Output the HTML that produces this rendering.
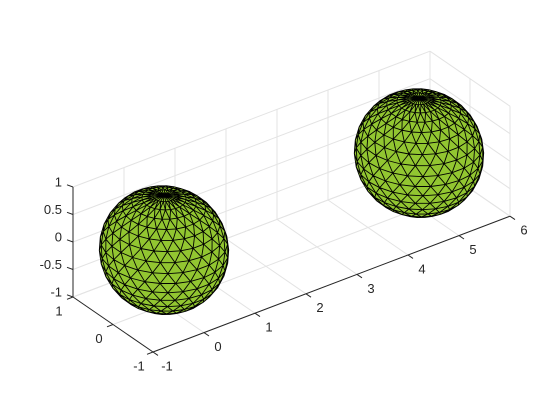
<!DOCTYPE html>
<html><head><meta charset="utf-8"><style>
body{margin:0;background:#fff}
svg{display:block;font-family:"Liberation Sans",sans-serif;font-size:13px;fill:#262626}
</style></head><body>
<svg id="c" width="560" height="420" viewBox="0 0 560 420">
<g id="grid"></g>
<g id="spheres"></g>
<g id="axes"></g>
</svg>
<script>
const xTicks=[-1,0,1,2,3,4,5,6];
const yTicks=[-1,0,1];
const zTicks=[-1,-0.5,0,0.5,1];
const zTickLabels=["-1","-0.5","0","0.5","1"];
const sphereCentersX=[0,5];
const sphereCentersY=[0,0];
const sphereCentersZ=[0,0];
const sphereRadius=[1,1];
const NS="http://www.w3.org/2000/svg";
const O=[153,352],UX=[51,-19.4],UY=[-40,-27.5],UZ=[0,-55];
function P(x,y,z){return [O[0]+(x+1)*UX[0]+(y+1)*UY[0]+(z+1)*UZ[0],O[1]+(x+1)*UX[1]+(y+1)*UY[1]+(z+1)*UZ[1]];}
function line(g,a,b,col,w,name){const l=document.createElementNS(NS,'line');
l.setAttribute('x1',a[0]);l.setAttribute('y1',a[1]);l.setAttribute('x2',b[0]);l.setAttribute('y2',b[1]);
l.setAttribute('stroke',col);l.setAttribute('stroke-width',w);


g.appendChild(l);}
function text(g,p,s,anchor,name){const t=document.createElementNS(NS,'text');
t.setAttribute('x',p[0]);t.setAttribute('y',p[1]);t.setAttribute('text-anchor',anchor);t.setAttribute('dominant-baseline','middle');
t.textContent=s;


g.appendChild(t);}
const G=document.getElementById('grid'),A=document.getElementById('axes'),S=document.getElementById('spheres');
const gc='#e3e3e3';
xTicks.forEach(x=>{line(G,P(x,-1,-1),P(x,1,-1),gc,1,'grid-line-x');line(G,P(x,1,-1),P(x,1,1),gc,1,'grid-line-x');});
yTicks.forEach(y=>{line(G,P(-1,y,-1),P(6,y,-1),gc,1,'grid-line-y');line(G,P(6,y,-1),P(6,y,1),gc,1,'grid-line-y');});
zTicks.forEach(z=>{line(G,P(-1,1,z),P(6,1,z),gc,1,'grid-line-z');line(G,P(6,-1,z),P(6,1,z),gc,1,'grid-line-z');});
const NLAT=18,NLON=26;
sphereCentersX.forEach((cx,k)=>{
 const cy=sphereCentersY[k],cz=sphereCentersZ[k],r=sphereRadius[k];
 const g=document.createElementNS(NS,'g');
 
 
 const rings=[];
 for(let i=0;i<=NLAT;i++){const th=Math.PI*i/NLAT;const row=[];
  for(let j=0;j<NLON;j++){const ph=2*Math.PI*(j+(i%2?0.5:0))/NLON;
   row.push(P(cx+r*Math.sin(th)*Math.cos(ph),cy+r*Math.sin(th)*Math.sin(ph),cz+r*Math.cos(th)));}
  rings.push(row);}
 let d='';
 function tri(a,b,c){const ar=(b[0]-a[0])*(c[1]-a[1])-(b[1]-a[1])*(c[0]-a[0]);
  if(ar>-0.01)return; d+='M'+a[0].toFixed(1)+','+a[1].toFixed(1)+'L'+b[0].toFixed(1)+','+b[1].toFixed(1)+'L'+c[0].toFixed(1)+','+c[1].toFixed(1)+'Z';}
 for(let i=0;i<NLAT;i++){const R0=rings[i],R1=rings[i+1];
  for(let j=0;j<NLON;j++){const jn=(j+1)%NLON;
   if(i%2===0){tri(R0[j],R1[j],R0[jn]);tri(R0[jn],R1[j],R1[jn]);}
   else{tri(R0[j],R1[jn],R0[jn]);tri(R0[j],R1[j],R1[jn]);}
   }}
 const path=document.createElementNS(NS,'path');
 path.setAttribute('d',d);path.setAttribute('fill','#92c631');path.setAttribute('stroke','#000');
 path.setAttribute('stroke-width','0.9');path.setAttribute('stroke-linejoin','round');
 
 
 g.appendChild(path);
 const c=P(cx,cy,cz);
 const rr=Math.hypot(UZ[0],UZ[1])*r*1.16;
 const o=document.createElementNS(NS,'circle');
 o.setAttribute('cx',c[0]);o.setAttribute('cy',c[1]);o.setAttribute('r',rr.toFixed(1));
 o.setAttribute('fill','none');o.setAttribute('stroke','#000');o.setAttribute('stroke-width','2.5');
 
 
 S.appendChild(g);
});
const ac='#262626';
line(A,P(-1,-1,-1),P(6,-1,-1),ac,1,'x-axis-line');
line(A,P(-1,-1,-1),P(-1,1,-1),ac,1,'y-axis-line');
line(A,P(-1,1,-1),P(-1,1,1),ac,1,'z-axis-line');
xTicks.forEach(x=>{const p=P(x,-1,-1);line(A,p,[p[0]+5,p[1]+3.4],ac,1,'x-tick');text(A,[p[0]+14,p[1]+15],String(x),'middle','x-tick-label');});
yTicks.forEach(y=>{const p=P(-1,y,-1);line(A,p,[p[0]-6,p[1]+2.3],ac,1,'y-tick');text(A,[p[0]-14,p[1]+15],String(y),'middle','y-tick-label');});
zTicks.forEach((z,i)=>{const p=P(-1,1,z);line(A,p,[p[0]-6,p[1]-2.2],ac,1,'z-tick');text(A,[p[0]-11,p[1]-4],zTickLabels[i],'end','z-tick-label');});
</script>
</body></html>
